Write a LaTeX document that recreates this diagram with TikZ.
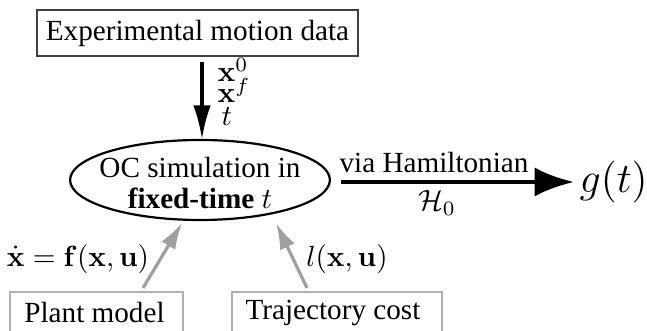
\documentclass[tikz,border=0pt]{standalone}
\usepackage[no-math]{fontspec}
\setmainfont{Liberation Serif}
\usepackage{amsmath,amssymb}
\usetikzlibrary{arrows.meta,shapes.geometric}
\definecolor{boxdark}{HTML}{404040}
\definecolor{boxlight}{HTML}{B0B0B0}
\definecolor{arrgray}{HTML}{A0A0A0}
\begin{document}
\begin{tikzpicture}[x=0.3425pt,y=-0.3425pt,
  topbox/.style={draw=boxdark,line width=0.45pt,minimum width=110pt,minimum height=15.8pt,inner sep=0pt},
  botbox/.style={draw=boxlight,line width=0.5pt,inner sep=0pt},
  ocell/.style={draw=black,ellipse,line width=0.75pt,minimum width=89pt,minimum height=27.4pt,inner sep=0pt},
  blackarrow/.style={line width=1.05pt,-{Latex[length=11.5pt,width=6pt]}},
  bigarrow/.style={line width=1.6pt,-{Latex[length=13.5pt,width=10pt]}},
  grayarrow/.style={draw=arrgray,line width=1.1pt,-{Latex[length=9pt,width=5.5pt]}},
  lbl/.style={inner sep=0pt}
]
\useasboundingbox (0,0) rectangle (647,331);
\clip (0,0) rectangle (647,331);
% top box
\node[topbox] (exp) at (197.5,33) {Experimental motion data};
% ellipse
\node[ocell] (oc) at (200,180) {};
\node[lbl,align=center] (octext) at (200,183) {OC simulation in\\[-1.5pt]\textbf{fixed-time} $t$};
% bottom boxes
\node[botbox,minimum width=59.3pt,minimum height=20pt] (plant) at (96.5,321.2) {};
\node[lbl] (planttext) at (94.5,313) {Plant model};
\node[botbox,minimum width=72pt,minimum height=20pt] (traj) at (337,321.2) {};
\node[lbl] (trajtext) at (333,313) {Trajectory cost};
% output
\node[lbl,anchor=west] (g) at (579,182) {\Large $g(t)$};
% coordinates for connectors
\coordinate (topstart) at (202,62);
\coordinate (toptip) at (202,139);
\coordinate (pmstart) at (143,288);
\coordinate (pmtip) at (182,223);
\coordinate (tcstart) at (307,288);
\coordinate (tctip) at (276,223);
\coordinate (hstart) at (341,182);
\coordinate (htip) at (574,182);
% connectors
\draw[blackarrow] (topstart) -- (toptip);
\draw[bigarrow] (hstart) -- (htip);
\draw[grayarrow] (pmstart) -- (pmtip);
\draw[grayarrow] (tcstart) -- (tctip);
% labels
\node[lbl,anchor=base west] (x0) at (217,82) {$\mathbf{x}^0$};
\node[lbl,anchor=base west] (xf) at (217,103) {$\mathbf{x}^f$};
\node[lbl,anchor=base west] (tl) at (221,126) {$t$};
\node[lbl] (via) at (434,163) {via Hamiltonian};
\node[lbl] (h0) at (437,203) {$\mathcal{H}_0$};
\node[lbl] (fx) at (78,259) {$\dot{\mathbf{x}}=\mathbf{f}(\mathbf{x},\mathbf{u})$};
\node[lbl] (lx) at (347,259) {$l(\mathbf{x},\mathbf{u})$};
\end{tikzpicture}
\end{document}
